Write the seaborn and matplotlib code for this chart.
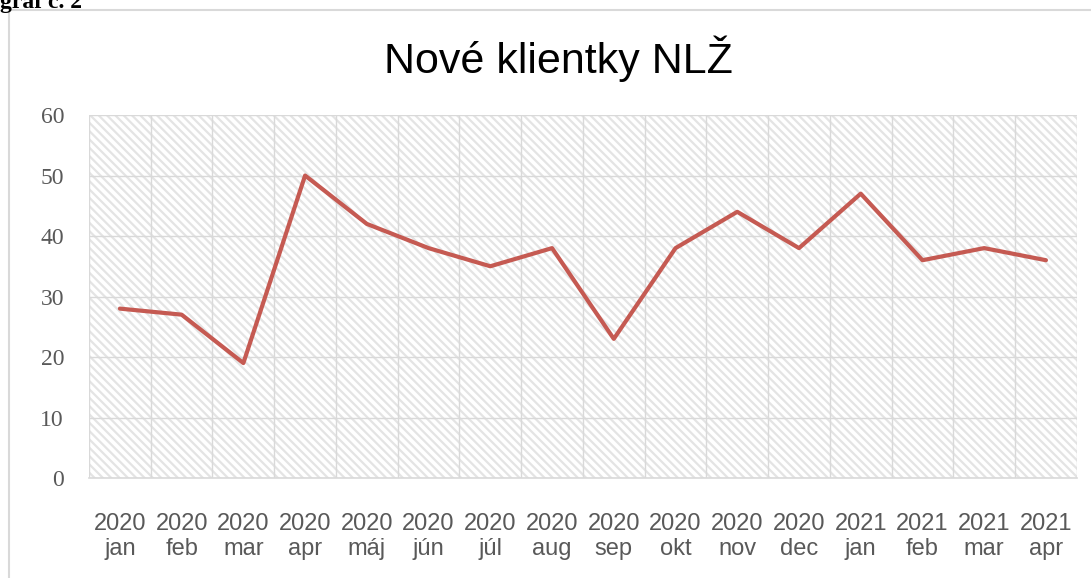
import numpy as np
import pandas as pd
import seaborn as sns
import matplotlib.pyplot as plt
from matplotlib.patches import Rectangle

# data
years = ['2020'] * 12 + ['2021'] * 4
months = ['jan', 'feb', 'mar', 'apr', 'máj', 'jún', 'júl', 'aug', 'sep', 'okt', 'nov', 'dec',
          'jan', 'feb', 'mar', 'apr']
clients = [28, 27, 19, 50, 42, 38, 35, 38, 23, 38, 44, 38, 47, 36, 38, 36]

df = pd.DataFrame({'pos': np.arange(len(clients)), 'clients': clients,
                   'label': [y + '\n' + m for y, m in zip(years, months)]})

sns.set_style('white')
plt.rcParams['hatch.linewidth'] = 1.6
plt.rcParams['hatch.color'] = '#e4e4e4'

fig = plt.figure(figsize=(10.91, 5.78), dpi=100)
ax = fig.add_axes([0.0816, 0.173, 0.9054, 0.628])

# hatched plot area
ax.patch.set_facecolor('white')
bg = Rectangle((0, 0), 1, 1, transform=ax.transAxes, facecolor='white',
               edgecolor='#e4e4e4', hatch='\\\\\\\\', lw=0, zorder=0)
ax.add_patch(bg)

sns.lineplot(data=df, x='pos', y='clients', ax=ax, color='#c55a52', lw=3, zorder=3)

ax.set_xlim(-0.5, len(clients) - 0.5)
ax.set_ylim(0, 60)
ax.set_yticks(range(0, 61, 10))
ax.set_xticks(df['pos'])
ax.set_xticklabels(df['label'], fontsize=17, color='#595959', family='Liberation Sans',
                   linespacing=1.2)
for t in ax.get_yticklabels():
    t.set_family('Liberation Serif')
    t.set_fontsize(17)
    t.set_color('#595959')
ax.set_xticks(np.arange(-0.5, len(clients)), minor=True)
ax.tick_params(axis='x', which='both', length=0, pad=25)
ax.tick_params(axis='y', length=0, pad=18)
ax.grid(axis='y', which='major', color='#d9d9d9', lw=1, zorder=1)
ax.grid(axis='x', which='minor', color='#d9d9d9', lw=1, zorder=1)
ax.set_axisbelow(True)
ax.set_xlabel('')
ax.set_ylabel('')
for s in ['left', 'top', 'right']:
    ax.spines[s].set_visible(False)
ax.spines['bottom'].set_color('#d9d9d9')
ax.spines['bottom'].set_linewidth(1.2)

fig.text(0.512, 1 - 73 / 578, 'Nové klientky NLŽ', ha='center', va='baseline',
         fontsize=31, family='Liberation Sans', color='black')

# chart frame and the clipped caption above it
fig.add_artist(Rectangle((8.5 / 1091, -0.1), 1.1, 1 - 10.5 / 578 + 0.1,
                         transform=fig.transFigure, fill=False,
                         edgecolor='#d9d9d9', lw=1.5))
fig.text(0.0, 1 - 8 / 578, 'graf č. 2', ha='left', va='baseline', fontsize=17,
         family='Liberation Serif', weight='bold', color='black')

fig.savefig('out.png', dpi=100)
